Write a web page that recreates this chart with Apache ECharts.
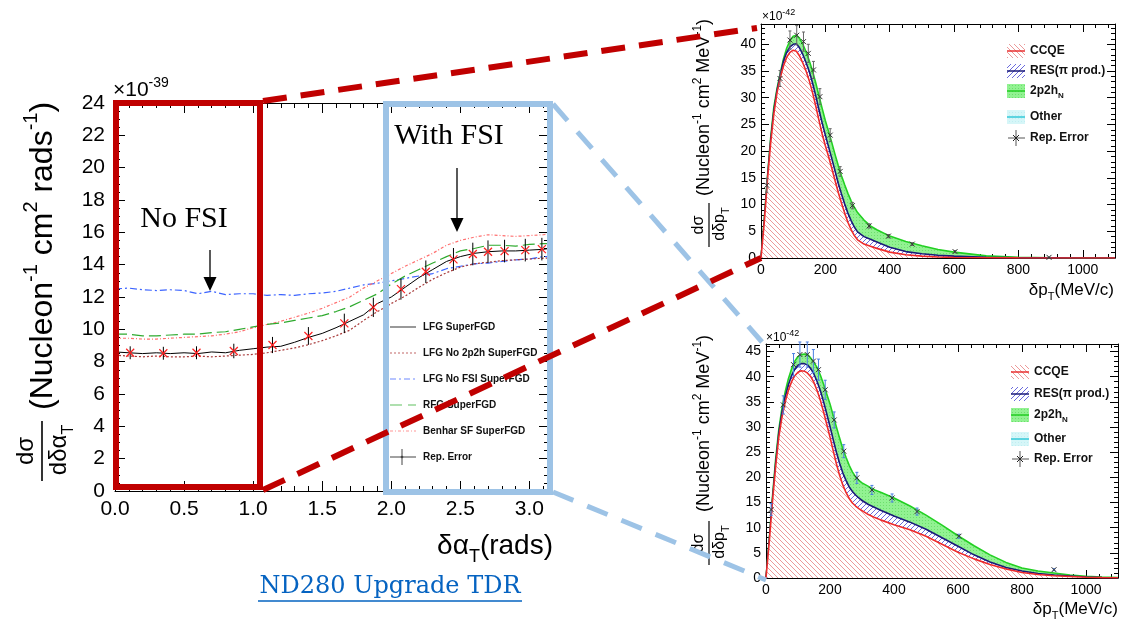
<!DOCTYPE html>
<html>
<head>
<meta charset="utf-8">
<script src="https://cdn.jsdelivr.net/npm/echarts@6/dist/echarts.min.js"></script>
<style>
html,body{margin:0;padding:0;background:#fff;}
#chart{width:1128px;height:624px;}
</style>
</head>
<body>
<div id="chart"></div>
<script>
// ---- delta alpha_T cross sections (x 1e-39 cm^2 / nucleon / rad) ----
const alphaBins = [0.0,0.1,0.2,0.3,0.4,0.5,0.6,0.7,0.8,0.9,1.0,1.1,1.2,1.3,1.4,1.5,1.6,1.7,1.8,1.9,2.0,2.1,2.2,2.3,2.4,2.5,2.6,2.7,2.8,2.9,3.0,3.1,3.14];
const lfg       = [8.6,8.55,8.5,8.55,8.5,8.55,8.5,8.6,8.55,8.7, 8.8,8.9,8.95,9.2,9.5,9.75,10.1,10.5,10.9,11.6, 12.0,12.6,13.2,13.7,14.2,14.5,14.7,14.8,14.85,14.85, 14.9,14.95,15.0];
const lfgNo2p2h = [8.4,8.35,8.3,8.35,8.3,8.3,8.35,8.3,8.35,8.4, 8.45,8.55,8.7,8.85,9.05,9.3,9.6,9.95,10.55,11.1, 11.6,12.05,12.6,13.1,13.5,13.85,14.05,14.15,14.25,14.3, 14.35,14.4,14.4];
const lfgNoFsi  = [12.5,12.55,12.45,12.4,12.45,12.4,12.2,12.35,12.15,12.2, 12.2,12.1,12.15,12.1,12.2,12.25,12.35,12.55,12.75,12.85, 13.0,13.15,13.3,13.45,13.75,13.9,14.05,14.1,14.2,14.3, 14.35,14.5,14.5];
const rfg       = [9.7,9.7,9.6,9.6,9.65,9.7,9.7,9.8,9.85,10.0, 10.15,10.3,10.4,10.55,10.7,10.85,11.1,11.4,11.8,12.2, 12.8,13.3,13.7,14.1,14.5,14.85,15.0,15.2,15.2,15.15, 15.25,15.3,15.3];
const benhar    = [9.45,9.45,9.4,9.4,9.45,9.5,9.55,9.6,9.7,9.85, 10.1,10.3,10.5,10.75,11.0,11.3,11.65,12.0,12.55,13.0, 13.45,13.9,14.3,14.7,15.2,15.5,15.7,15.85,15.8,15.75, 15.8,15.85,15.9];
const errAlpha  = [0.11,0.35,0.59,0.86,1.14,1.40,1.66,1.87,2.07,2.25,2.45,2.59,2.70,2.82,2.97,3.09];
const errAlphaV = [8.55,8.52,8.55,8.66,9.03,9.59,10.37,11.36,12.49,13.56,14.33,14.66,14.8,14.84,14.9,14.96];
const errAlphaE = [0.4,0.4,0.4,0.45,0.5,0.55,0.6,0.6,0.65,0.7,0.7,0.7,0.7,0.7,0.7,0.7];

// ---- delta p_T, no FSI (x 1e-42 cm^2 / nucleon / MeV), cumulative stack tops ----
const ptTop      = [0,10,20,30,40,50,60,70,80,90,100,110,120,130,140,150,160,170,180,190,200,210,220,230,240,250,260,270,280,290,300,320,340,360,400,450,500,550,600,700,800,900,1000,1100];
const ccqeTop    = [0,6.5,14.5,21.5,27,31,33.8,36,37.6,38.5, 38.9,38.7,37.8,36.5,35,33.2,31,28.5,25.8,23.2, 21,19,16.8,14.5,12.3,10.3,8.4,6.7,5.3,4.2, 3.4,2.6,2.2,1.8,1.1,0.6,0.35,0.2,0.1,0.04, 0.02,0.01,0,0];
const ccqeResTop = [0,6.7,14.8,22,27.6,31.4,34.3,36.9,38.5,39.5, 40.0,40.1,39.3,38.1,36.6,34.9,32.8,30.4,27.8,25.3, 23.0,20.8,18.6,16.3,14.0,12.0,10.1,8.4,7.0,5.8, 4.9,4.0,3.5,3.0,2.0,1.2,0.8,0.5,0.35,0.12, 0.05,0.02,0.01,0];
const totalTop   = [0,7.2,15.2,22.5,28.3,31.8,34.6,37.3,39.3,40.7, 41.5,41.7,41.1,40.0,38.6,36.9,35.0,32.8,30.4,28.0, 25.7,23.7,21.6,19.4,17.3,15.4,13.7,12.1,10.7,9.5, 8.5,7.1,6.0,5.3,4.1,3.1,2.3,1.6,1.1,0.4, 0.12,0.05,0.02,0];
const errPtTop   = [18,59,90,111,132,147,163,183,215,246,284,336,396,470,603,895];
const errVTop    = [13.6,33.6,40.8,41.7,40.5,38.3,35.2,30.2,23.0,16.2,9.8,6.0,4.1,2.6,1.2,0.12];
const errETop    = [1.3,1.5,1.7,1.8,1.8,1.7,1.6,1.5,1.2,0.9,0.6,0.4,0.3,0.25,0.2,0.05];

// ---- delta p_T, with FSI ----
const ptBot      = [0,10,20,30,40,50,60,70,80,90,100,110,120,130,140,150,160,170,180,190,200,210,220,230,240,250,260,270,280,290,300,320,340,360,400,450,500,550,600,650,700,750,800,850,900,950,1000,1050,1100];
const ccqeBot    = [0,7,15,22,28,32,35,37.3,39.0,40.2, 40.9,41.2,41.1,40.7,40.0,38.8,37.2,35.3,33.0,30.5, 28.0,25.3,22.7,20.4,18.5,17.0,15.8,14.9,14.3,13.8, 13.4,12.6,12.0,11.5,10.6,9.6,8.3,6.7,5.1,3.8, 2.7,1.8,1.1,0.7,0.45,0.3,0.15,0.08,0.04];
const ccqeResBot = [0,7.2,15.4,22.7,28.8,32.9,36.0,38.4,40.2,41.5, 42.3,42.6,42.6,42.3,41.6,40.5,39.0,37.2,35.0,32.6, 30.1,27.5,25.0,22.8,20.9,19.4,18.1,17.2,16.5,15.9, 15.4,14.6,14.0,13.4,12.3,11.1,9.7,8.0,6.3,4.6, 3.2,2.1,1.4,0.9,0.6,0.4,0.2,0.1,0.05];
const totalBot   = [0,7.5,16,23.5,29.5,33.8,37.0,39.6,41.6,43.1, 44.0,44.4,44.5,44.4,43.7,42.8,41.8,40.3,38.5,36.5, 34.6,32.3,30.0,27.8,25.7,24.0,22.4,21.1,20.1,19.4, 18.9,18.2,17.5,17.0,15.9,14.3,12.5,10.5,8.4,6.4, 4.6,3.1,2.0,1.4,1.0,0.6,0.35,0.2,0.1];
const errPtBot   = [16,54,86,106,129,148,164,185,213,243,284,331,394,472,603,900];
const errVBot    = [13.6,34.4,42.4,44.4,44.4,43.1,41.4,37.4,31.4,25.2,19.9,17.5,15.9,13.2,8.3,1.65];
const errEBot    = [1.2,1.8,2.2,2.5,2.5,2.3,2.1,1.9,1.6,1.3,1.1,0.9,0.8,0.7,0.4,0.2];

const leftLegend = ['LFG SuperFGD','LFG No 2p2h SuperFGD','LFG No FSI SuperFGD','RFG SuperFGD','Benhar SF SuperFGD','Rep. Error'];
const rightLegend = ['CCQE','RES(\u03c0 prod.)','2p2h','Other','Rep. Error'];

const FF = 'Liberation Sans';
const SERIF = 'Liberation Serif';
const zip = (xs, ys) => xs.map((x, i) => [x, ys[i]]);
const zip3 = (xs, ys, es) => xs.map((x, i) => [x, ys[i], es[i]]);

// hatch / dot fill tiles
function hatch(color, slash, step) {
  const c = document.createElement('canvas');
  c.width = c.height = step;
  const g = c.getContext('2d');
  g.fillStyle = '#fff'; g.fillRect(0, 0, step, step);
  g.strokeStyle = color; g.lineWidth = 1;
  g.beginPath();
  if (slash) {
    g.moveTo(0, step); g.lineTo(step, 0);
    g.moveTo(-2, 2); g.lineTo(2, -2);
    g.moveTo(step - 2, step + 2); g.lineTo(step + 2, step - 2);
  } else {
    g.moveTo(0, 0); g.lineTo(step, step);
    g.moveTo(step - 2, -2); g.lineTo(step + 2, 2);
    g.moveTo(-2, step - 2); g.lineTo(2, step + 2);
  }
  g.stroke();
  return { image: c, repeat: 'repeat' };
}
function dots(base, dot) {
  const c = document.createElement('canvas');
  c.width = c.height = 3;
  const g = c.getContext('2d');
  g.fillStyle = base; g.fillRect(0, 0, 3, 3);
  g.fillStyle = dot; g.fillRect(1, 1, 1, 1);
  return { image: c, repeat: 'repeat' };
}
const ccqeFill = hatch('rgba(230,120,120,0.75)', false, 5);
const resFill = hatch('rgba(80,80,215,0.85)', true, 5);
const mecFill = dots('#92f292', '#6ddf6d');
const otherFill = dots('#d6f6f8', '#c0eef2');

function axis(grid, pos, min, max, interval, minor, tickLen, label) {
  return {
    type: 'value', gridIndex: grid, position: pos, min: min, max: max, interval: interval,
    axisLine: { show: true, onZero: false, lineStyle: { color: '#000', width: 1 } },
    axisTick: { show: true, inside: true, length: tickLen, lineStyle: { color: '#000', width: 1 } },
    minorTick: { show: true, splitNumber: minor, length: tickLen / 2, lineStyle: { color: '#000', width: 1 } },
    splitLine: { show: false }, minorSplitLine: { show: false },
    axisLabel: label ? Object.assign({ color: '#000', fontFamily: FF, showMaxLabel: false, formatter: v => String(v) }, label) : { show: false }
  };
}

function errorSeries(xi, yi, data, barColor, markColor, cap, mark, markW) {
  return {
    type: 'custom', xAxisIndex: xi, yAxisIndex: yi, data: data, z: 6, silent: true, clip: false,
    encode: { x: 0, y: 1 },
    renderItem: function (params, api) {
      const x = api.value(0), y = api.value(1), e = api.value(2);
      const c = api.coord([x, y]), lo = api.coord([x, y - e]), hi = api.coord([x, y + e]);
      const kids = [{ type: 'line', shape: { x1: c[0], y1: lo[1], x2: c[0], y2: hi[1] }, style: { stroke: barColor, lineWidth: 1 } }];
      if (cap) {
        kids.push({ type: 'line', shape: { x1: c[0] - cap, y1: lo[1], x2: c[0] + cap, y2: lo[1] }, style: { stroke: barColor, lineWidth: 1 } });
        kids.push({ type: 'line', shape: { x1: c[0] - cap, y1: hi[1], x2: c[0] + cap, y2: hi[1] }, style: { stroke: barColor, lineWidth: 1 } });
      }
      kids.push({ type: 'line', shape: { x1: c[0] - mark, y1: c[1] - mark, x2: c[0] + mark, y2: c[1] + mark }, style: { stroke: markColor, lineWidth: markW } });
      kids.push({ type: 'line', shape: { x1: c[0] - mark, y1: c[1] + mark, x2: c[0] + mark, y2: c[1] - mark }, style: { stroke: markColor, lineWidth: markW } });
      return { type: 'group', children: kids };
    }
  };
}

function lineSeries(name, data, color, dash, width) {
  return {
    name: name, type: 'line', xAxisIndex: 0, yAxisIndex: 0, data: data, symbol: 'none',
    lineStyle: { color: color, type: dash, width: width }, z: 3, silent: true
  };
}

function stackArea(xi, data, lineColor, fill, z) {
  return {
    type: 'line', xAxisIndex: xi, yAxisIndex: xi, data: data, symbol: 'none', z: z, silent: true,
    lineStyle: { color: lineColor, width: 1.6 }, areaStyle: { color: fill, opacity: 1 }
  };
}

// rich-text helpers
function richMain(size, lh) { return { fontSize: size, fontFamily: FF, fill: '#000', lineHeight: lh, verticalAlign: 'middle' }; }
function richSup(size) { return { fontSize: size, fontFamily: FF, fill: '#000', lineHeight: size, verticalAlign: 'top' }; }
function richSub(size) { return { fontSize: size, fontFamily: FF, fill: '#000', lineHeight: size, verticalAlign: 'bottom' }; }

// rotated d(sigma)/d(x) axis title
function yTitle(ox, oy, fracLen, fracSize, subSize, fracOff, denomVar, mainX, mainSize, supSize, unit, mainY) {
  return {
    type: 'group', x: ox, y: oy, rotation: Math.PI / 2, z: 5, children: [
      { type: 'text', x: fracLen / 2 + 1, y: -fracOff, style: { text: 'd\u03c3', fontSize: fracSize, fontFamily: FF, fill: '#000', align: 'center', verticalAlign: 'middle' } },
      { type: 'line', shape: { x1: 1, y1: 0, x2: fracLen + 1, y2: 0 }, style: { stroke: '#000', lineWidth: fracSize > 20 ? 1.6 : 1.2 } },
      { type: 'text', x: fracLen / 2 + 2, y: fracOff + 1, style: { text: '{m|d\u03b4' + denomVar + '}{s|T}', rich: { m: richMain(fracSize, fracSize * 1.45), s: richSub(subSize) }, align: 'center', verticalAlign: 'middle' } },
      { type: 'text', x: mainX, y: mainY, style: { text: '{m|(Nucleon}{s|-1}{m| cm}{s|2}{m| ' + unit + '}{s|-1}{m|)}', rich: { m: richMain(mainSize, mainSize * 1.35), s: richSup(supSize) }, align: 'left', verticalAlign: 'middle' } }
    ]
  };
}

const graphics = [];
// axis titles
graphics.push(yTitle(42, 482, 60, 24, 16, 16, '\u03b1', 72, 32, 20, 'rads', 1));
graphics.push(yTitle(709, 248, 44, 16, 11, 10, 'p', 52, 18, 12, 'MeV', -5));
graphics.push(yTitle(709, 566, 44, 16, 11, 10, 'p', 54, 18, 12, 'MeV', -5));
graphics.push({ type: 'text', x: 553, y: 546, z: 5, style: { text: '{m|\u03b4\u03b1}{s|T}{m|(rads)}', rich: { m: richMain(28, 40), s: richSub(18) }, align: 'right', verticalAlign: 'middle' } });
graphics.push({ type: 'text', x: 1114, y: 290, z: 5, style: { text: '{m|\u03b4p}{s|T}{m|(MeV/c)}', rich: { m: richMain(17, 24), s: richSub(11) }, align: 'right', verticalAlign: 'middle' } });
graphics.push({ type: 'text', x: 1118, y: 609, z: 5, style: { text: '{m|\u03b4p}{s|T}{m|(MeV/c)}', rich: { m: richMain(17, 24), s: richSub(11) }, align: 'right', verticalAlign: 'middle' } });
// exponent labels
graphics.push({ type: 'text', x: 113, y: 90, z: 5, style: { text: '{m|\u00d710}{s|-39}', rich: { m: richMain(21, 28), s: richSup(14) }, align: 'left', verticalAlign: 'middle' } });
graphics.push({ type: 'text', x: 762, y: 17, z: 5, style: { text: '{m|\u00d710}{s|-42}', rich: { m: richMain(12, 17), s: richSup(9) }, align: 'left', verticalAlign: 'middle' } });
graphics.push({ type: 'text', x: 766, y: 338, z: 5, style: { text: '{m|\u00d710}{s|-42}', rich: { m: richMain(12, 17), s: richSup(9) }, align: 'left', verticalAlign: 'middle' } });

// left legend
const legRows = [327, 353, 379, 405, 431, 457];
const legStyles = [
  { c: '#000', d: null }, { c: '#b04040', d: [2, 2] }, { c: '#4a6cff', d: [6, 3, 2, 3] },
  { c: '#38b038', d: [12, 6] }, { c: '#ff7a7a', d: [3, 2, 1, 2] }
];
legStyles.forEach((s, i) => {
  graphics.push({ type: 'line', z: 8, shape: { x1: 390, y1: legRows[i], x2: 416, y2: legRows[i] }, style: { stroke: s.c, lineWidth: 1, lineDash: s.d, opacity: 0.8 } });
});
graphics.push({ type: 'line', z: 8, shape: { x1: 390, y1: 457, x2: 416, y2: 457 }, style: { stroke: '#444', lineWidth: 1 } });
graphics.push({ type: 'line', z: 8, shape: { x1: 402, y1: 449, x2: 402, y2: 465 }, style: { stroke: '#444', lineWidth: 1 } });
graphics.push({ type: 'circle', z: 8, shape: { cx: 402, cy: 457, r: 1.3 }, style: { fill: '#444' } });
leftLegend.forEach((t, i) => {
  graphics.push({ type: 'text', x: 423, y: legRows[i], z: 8, style: { text: t, fontSize: 10, fontWeight: 'bold', fontFamily: FF, fill: '#111', align: 'left', verticalAlign: 'middle' } });
});

// right legends
function rightLegendBlock(bx, tx, rows) {
  const fills = [ccqeFill, resFill, mecFill, otherFill];
  const lines = ['#e83030', '#1a1a78', '#22cc22', '#33c8d8'];
  for (let i = 0; i < 4; i++) {
    graphics.push({ type: 'rect', z: 8, shape: { x: bx, y: rows[i] - 7, width: 18, height: 14 }, style: { fill: fills[i] } });
    graphics.push({ type: 'line', z: 8, shape: { x1: bx, y1: rows[i], x2: bx + 18, y2: rows[i] }, style: { stroke: lines[i], lineWidth: 1.5 } });
  }
  const r = rows[4], cx = bx + 9;
  graphics.push({ type: 'line', z: 8, shape: { x1: bx + 1, y1: r, x2: bx + 18, y2: r }, style: { stroke: '#555', lineWidth: 1 } });
  graphics.push({ type: 'line', z: 8, shape: { x1: cx, y1: r - 8, x2: cx, y2: r + 8 }, style: { stroke: '#555', lineWidth: 1 } });
  graphics.push({ type: 'line', z: 8, shape: { x1: cx - 3, y1: r - 3, x2: cx + 3, y2: r + 3 }, style: { stroke: '#222', lineWidth: 1 } });
  graphics.push({ type: 'line', z: 8, shape: { x1: cx - 3, y1: r + 3, x2: cx + 3, y2: r - 3 }, style: { stroke: '#222', lineWidth: 1 } });
  rightLegend.forEach((t, i) => {
    const txt = i === 2 ? '{m|' + t + '}{s|N}' : '{m|' + t + '}';
    graphics.push({ type: 'text', x: tx, y: rows[i], z: 8, style: {
      text: txt, align: 'left', verticalAlign: 'middle',
      rich: { m: { fontSize: 12, fontWeight: 'bold', fontFamily: FF, fill: '#111', lineHeight: 18, verticalAlign: 'middle' },
              s: { fontSize: 8, fontWeight: 'bold', fontFamily: FF, fill: '#111', lineHeight: 8, verticalAlign: 'bottom' } } } });
  });
}
rightLegendBlock(1007, 1030, [51, 71, 91, 117, 138]);
rightLegendBlock(1011, 1034, [372, 394, 415, 439, 459]);

// FSI annotations
graphics.push({ type: 'text', x: 184, y: 219, z: 9, style: { text: 'No FSI', fontSize: 30, fontFamily: SERIF, fill: '#000', align: 'center', verticalAlign: 'middle' } });
graphics.push({ type: 'line', z: 9, shape: { x1: 210, y1: 250, x2: 210, y2: 280 }, style: { stroke: '#000', lineWidth: 1.3 } });
graphics.push({ type: 'polygon', z: 9, shape: { points: [[203.5, 277], [216.5, 277], [210, 291]] }, style: { fill: '#000' } });
graphics.push({ type: 'text', x: 449, y: 136, z: 9, style: { text: 'With FSI', fontSize: 30, fontFamily: SERIF, fill: '#000', align: 'center', verticalAlign: 'middle' } });
graphics.push({ type: 'line', z: 9, shape: { x1: 457, y1: 168, x2: 457, y2: 220 }, style: { stroke: '#000', lineWidth: 1.3 } });
graphics.push({ type: 'polygon', z: 9, shape: { points: [[450.5, 218], [463.5, 218], [457, 232]] }, style: { fill: '#000' } });

// highlight boxes and connectors
graphics.push({ type: 'rect', z: 10, shape: { x: 386, y: 104, width: 164, height: 388 }, style: { fill: 'none', stroke: '#9dc3e6', lineWidth: 6 } });
graphics.push({ type: 'line', z: 10, shape: { x1: 553, y1: 104, x2: 762, y2: 342 }, style: { stroke: '#9dc3e6', lineWidth: 5, lineDash: [22, 15] } });
graphics.push({ type: 'line', z: 10, shape: { x1: 553, y1: 492, x2: 766, y2: 580 }, style: { stroke: '#9dc3e6', lineWidth: 5, lineDash: [22, 15] } });
graphics.push({ type: 'rect', z: 11, shape: { x: 116, y: 103, width: 144, height: 384 }, style: { fill: 'none', stroke: '#c00000', lineWidth: 6 } });
graphics.push({ type: 'line', z: 12, shape: { x1: 263, y1: 101, x2: 757, y2: 28 }, style: { stroke: '#c00000', lineWidth: 6, lineDash: [24, 14] } });
graphics.push({ type: 'line', z: 12, shape: { x1: 263, y1: 490, x2: 761, y2: 258 }, style: { stroke: '#c00000', lineWidth: 6, lineDash: [24, 14] } });

// reference link
graphics.push({ type: 'text', x: 390, y: 587, z: 5, style: { text: 'ND280 Upgrade TDR', fontSize: 24, fontFamily: 'DejaVu Serif', fill: '#0563c1', align: 'center', verticalAlign: 'middle' } });
graphics.push({ type: 'line', z: 5, shape: { x1: 258, y1: 601, x2: 522, y2: 601 }, style: { stroke: '#0563c1', lineWidth: 1.5 } });

const option = {
  animation: false,
  backgroundColor: '#fff',
  grid: [
    { left: 115, top: 103, width: 434, height: 388, containLabel: false, outerBoundsMode: 'none' },
    { left: 761, top: 24, width: 354, height: 234, containLabel: false, outerBoundsMode: 'none' },
    { left: 766, top: 344, width: 352, height: 234, containLabel: false, outerBoundsMode: 'none' }
  ],
  xAxis: [
    axis(0, 'bottom', 0, Math.PI, 0.5, 5, 10, { fontSize: 21, margin: 8, formatter: v => v.toFixed(1) }),
    axis(0, 'top', 0, Math.PI, 0.5, 5, 10, null),
    axis(1, 'bottom', 0, 1100, 200, 5, 8, { fontSize: 14, margin: 5 }),
    axis(1, 'top', 0, 1100, 200, 5, 8, null),
    axis(2, 'bottom', 0, 1100, 200, 5, 8, { fontSize: 14, margin: 5 }),
    axis(2, 'top', 0, 1100, 200, 5, 8, null)
  ],
  yAxis: [
    axis(0, 'left', 0, 24, 2, 4, 10, { fontSize: 21, margin: 10, showMaxLabel: true }),
    axis(0, 'right', 0, 24, 2, 4, 10, null),
    axis(1, 'left', 0, 43.8, 5, 5, 8, { fontSize: 14, margin: 5 }),
    axis(1, 'right', 0, 43.8, 5, 5, 8, null),
    axis(2, 'left', 0, 46.5, 5, 5, 8, { fontSize: 14, margin: 5 }),
    axis(2, 'right', 0, 46.5, 5, 5, 8, null)
  ],
  series: [
    lineSeries('LFG No FSI SuperFGD', zip(alphaBins, lfgNoFsi), '#3c64ff', [7, 3, 2, 3], 1.2),
    lineSeries('Benhar SF SuperFGD', zip(alphaBins, benhar), '#ff7070', [3, 2, 1, 2], 1.2),
    lineSeries('RFG SuperFGD', zip(alphaBins, rfg), '#2eaa2e', [12, 5], 1.2),
    lineSeries('LFG No 2p2h SuperFGD', zip(alphaBins, lfgNo2p2h), '#a83a3a', [2, 2], 1.2),
    lineSeries('LFG SuperFGD', zip(alphaBins, lfg), '#000', 'solid', 1),
    errorSeries(0, 0, zip3(errAlpha, errAlphaV, errAlphaE), '#000', '#ff2020', 0, 4, 1.2),

    stackArea(2, zip(ptTop, totalTop), '#22d022', mecFill, 2),
    stackArea(2, zip(ptTop, ccqeResTop), '#1a1a78', resFill, 3),
    stackArea(2, zip(ptTop, ccqeTop), '#ee2a2a', ccqeFill, 4),
    errorSeries(2, 2, zip3(errPtTop, errVTop, errETop), '#666', '#333', 1.5, 2.5, 1),

    stackArea(4, zip(ptBot, totalBot), '#22d022', mecFill, 2),
    stackArea(4, zip(ptBot, ccqeResBot), '#1a1a78', resFill, 3),
    stackArea(4, zip(ptBot, ccqeBot), '#ee2a2a', ccqeFill, 4),
    errorSeries(4, 4, zip3(errPtBot, errVBot, errEBot), '#4a7ee0', '#333', 1.5, 2.5, 1)
  ],
  graphic: { elements: graphics }
};

const chart = echarts.init(document.getElementById('chart'), null, { renderer: 'canvas' });
chart.setOption(option);
</script>
</body>
</html>
